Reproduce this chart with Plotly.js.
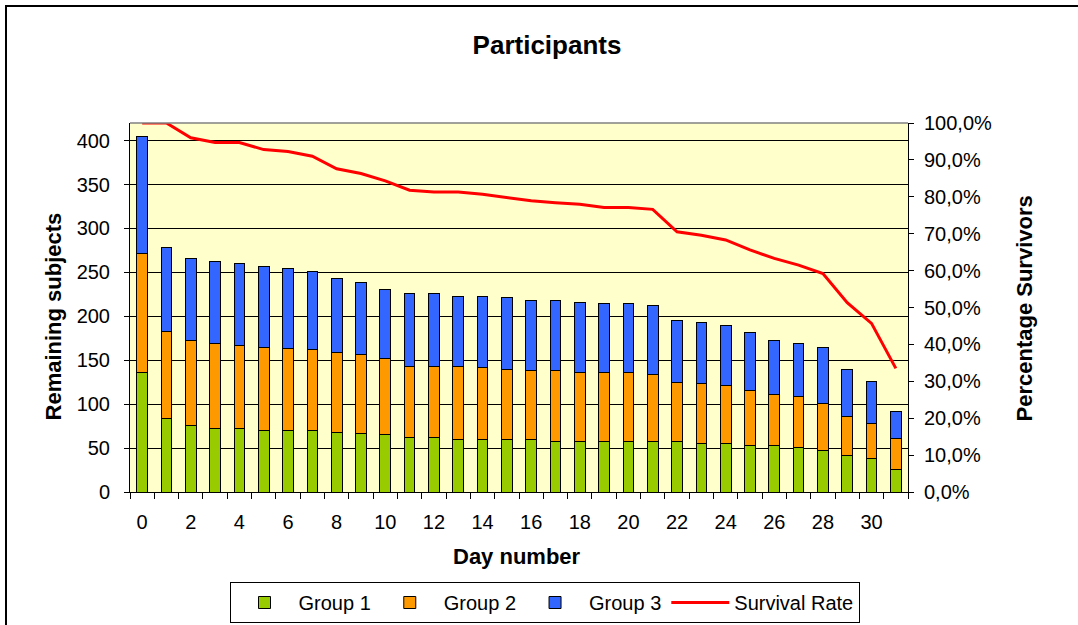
<!DOCTYPE html>
<html>
<head>
<meta charset="utf-8">
<script src="https://cdn.plot.ly/plotly-3.0.1.min.js"></script>
<style>
  html, body { margin: 0; padding: 0; background: #fff; }
  #wrap { position: relative; width: 1078px; height: 625px; overflow: hidden; }
  #frame { position: absolute; left: 5px; top: 5px; width: 2000px; height: 2000px;
           border-left: 2px solid #000; border-top: 2px solid #000; }
  #chart { position: absolute; left: 0; top: 0; width: 1078px; height: 625px; }
</style>
</head>
<body>
<div id="wrap">
  <div id="frame"></div>
  <div id="chart"></div>
</div>
<script>
// ---- data ----
const days = [0,1,2,3,4,5,6,7,8,9,10,11,12,13,14,15,16,17,18,19,20,21,22,23,24,25,26,27,28,29,30,31];
const group1 = [136,84,76,72,72,70,70,70,68,67,65,62,62,60,60,60,60,58,57,57,57,57,57,55,55,53,53,51,47,41,38,26];
const group2 = [135,99,97,97,95,95,93,92,91,89,87,81,81,83,82,80,78,80,79,79,79,77,68,68,66,62,58,58,54,45,40,35];
const group3 = [134,95,93,93,93,92,91,89,84,83,79,83,83,80,81,81,80,80,80,78,78,78,70,70,68,66,62,60,63,54,48,31];
const survivalRate = [1.000,1.000,0.960,0.947,0.947,0.928,0.923,0.910,0.876,0.863,0.843,0.818,0.813,0.813,0.807,0.798,0.789,0.784,0.780,0.771,0.771,0.766,0.705,0.696,0.683,0.656,0.633,0.615,0.592,0.513,0.457,0.335];
const dayTicks = [0,2,4,6,8,10,12,14,16,18,20,22,24,26,28,30];
const leftTicks = [0,50,100,150,200,250,300,350,400];
const pctTicks = [0,0.1,0.2,0.3,0.4,0.5,0.6,0.7,0.8,0.9,1.0];
const pctLabels = ['0,0%','10,0%','20,0%','30,0%','40,0%','50,0%','60,0%','70,0%','80,0%','90,0%','100,0%'];
const seriesNames = ['Group 1','Group 2','Group 3','Survival Rate'];

// ---- chart ----
const FONT = 'Liberation Sans, Arial, sans-serif';
const TICK = 20;
const boundaries = days.map(d => d - 0.5).concat([days[days.length - 1] + 0.5]);

const barLine = {color: '#000000', width: 1};
const traces = [
  {type: 'bar', name: seriesNames[0], x: days, y: group1, marker: {color: '#99CC00', line: barLine}},
  {type: 'bar', name: seriesNames[1], x: days, y: group2, marker: {color: '#FF9900', line: barLine}},
  {type: 'bar', name: seriesNames[2], x: days, y: group3, marker: {color: '#3366FF', line: barLine}},
  {type: 'scatter', mode: 'lines', name: seriesNames[3], x: days, y: survivalRate, yaxis: 'y2',
   line: {color: '#FF0000', width: 3}}
];

const layout = {
  width: 1078, height: 625,
  margin: {l: 130, r: 170, t: 123, b: 133, pad: 0},
  paper_bgcolor: 'rgba(0,0,0,0)',
  plot_bgcolor: '#FFFFCC',
  font: {family: FONT, size: TICK, color: '#000'},
  showlegend: true,
  barmode: 'stack',
  bargap: 0.56,
  title: {text: '<b>Participants</b>', font: {family: FONT, size: 26, color: '#000'},
          xref: 'container', x: 547/1078, xanchor: 'center', yref: 'container', y: 1 - 45/625, yanchor: 'middle'},
  xaxis: {
    range: [-0.5, 31.5], tickvals: dayTicks, ticks: '', showgrid: false, zeroline: false,
    showline: true, linecolor: '#000', linewidth: 1,
    ticklabelstandoff: 12,
    minor: {tickvals: boundaries, ticks: 'outside', ticklen: 6, tickcolor: '#000', tickwidth: 1, showgrid: false},
    tickfont: {family: FONT, size: TICK}, fixedrange: true
  },
  yaxis: {
    range: [0, 420], tickvals: leftTicks, ticks: 'outside', ticklen: 5, tickcolor: '#000',
    showgrid: true, gridcolor: '#000', gridwidth: 1, zeroline: false,
    showline: true, linecolor: '#000', linewidth: 1,
    ticklabelstandoff: 10,
    tickfont: {family: FONT, size: TICK}, fixedrange: true
  },
  yaxis2: {
    overlaying: 'y', side: 'right', range: [0, 1], tickvals: pctTicks, ticktext: pctLabels,
    ticks: 'outside', ticklen: 5, tickcolor: '#000', showgrid: false, zeroline: false,
    showline: true, linecolor: '#000', linewidth: 1,
    ticklabelstandoff: 6,
    tickfont: {family: FONT, size: TICK}, fixedrange: true
  },
  legend: {
    orientation: 'h', traceorder: 'normal',
    xref: 'container', x: 544.5/1078, xanchor: 'center',
    yref: 'container', y: 1 - 582/625, yanchor: 'top',
    bordercolor: '#000', borderwidth: 1, bgcolor: '#fff',
    font: {family: FONT, size: TICK, color: '#000'},
    itemwidth: 58
  },
  shapes: [
    {type: 'line', xref: 'paper', yref: 'paper', x0: 0, x1: 1, y0: 1, y1: 1,
     line: {color: '#808080', width: 1.5}}
  ],
  annotations: [
    {text: '<b>Remaining subjects</b>', xref: 'paper', yref: 'paper', x: (53 - 130)/778, y: (492 - 316)/370,
     xanchor: 'center', yanchor: 'middle', textangle: -90, showarrow: false,
     font: {family: FONT, size: 22, color: '#000'}},
    {text: '<b>Percentage Survivors</b>', xref: 'paper', yref: 'paper', x: (1024 - 130)/778, y: (492 - 308)/370,
     xanchor: 'center', yanchor: 'middle', textangle: -90, showarrow: false,
     font: {family: FONT, size: 22, color: '#000'}},
    {text: '<b>Day number</b>', xref: 'paper', yref: 'paper', x: (517 - 130)/778, y: (492 - 557)/370,
     xanchor: 'center', yanchor: 'middle', showarrow: false,
     font: {family: FONT, size: 22, color: '#000'}}
  ]
};

Plotly.newPlot('chart', traces, layout, {displayModeBar: false, staticPlot: true});
</script>
</body>
</html>
